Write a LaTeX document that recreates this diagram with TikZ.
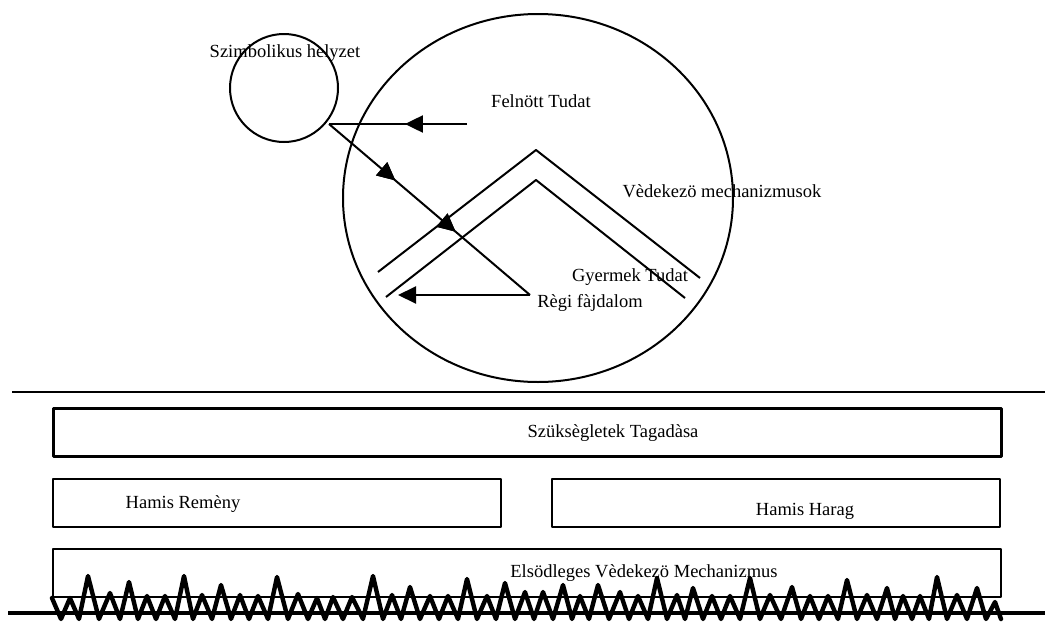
\documentclass[tikz,border=0pt]{standalone}
\usepackage{fontspec}
\setmainfont{Liberation Serif}
\usetikzlibrary{arrows.meta,decorations.markings,shapes.geometric}
\begin{document}
\begin{tikzpicture}[x=1pt,y=-1pt, line join=round,
  lbl/.style={font=\fontsize{18.5}{20}\selectfont, inner sep=0pt, anchor=center},
  ln/.style={line width=2pt},
  arrowtip/.style={-{Triangle[length=18pt,width=17pt]}},
  midtip/.style={postaction={decorate}, decoration={markings, mark=at position #1 with {\arrow{Triangle[length=18pt,width=17pt]}}}},
  rbox/.style={draw, line width=2.3pt, inner sep=0pt, minimum height=48pt, anchor=north west}]
\useasboundingbox (0,0) rectangle (1045,624);

% circles
\node[draw, ellipse, line width=2pt, minimum width=390pt, minimum height=368pt, inner sep=0pt] (big) at (538,198) {};
\node[draw, circle, line width=2pt, minimum size=108pt, inner sep=0pt] (sym) at (284,88) {};
\node[lbl] (symlbl) at (285,53) {Szimbolikus helyzet};

% chevrons
\coordinate (oa) at (378,272); \coordinate (ob) at (536,150); \coordinate (oc) at (700,278);
\coordinate (ia) at (386,297); \coordinate (ib) at (536,180); \coordinate (ic) at (685,298);
\draw[ln] (oa) -- (ob) -- (oc);
\draw[ln] (ia) -- (ib) -- (ic);

% arrows
\coordinate (s) at (329,124);
\coordinate (h) at (467,124);
\coordinate (p) at (530,295);
\coordinate (q) at (398,295);
\draw[ln, midtip=0.45] (h) -- (s);
\draw[ln, midtip=0.33, midtip=0.63] (s) -- (p);
\draw[ln, arrowtip] (p) -- (q);

% labels in circle
\node[lbl] (adult) at (541,101) {Felnött Tudat};
\node[lbl] (def) at (722,191) {Vèdekezö mechanizmusok};
\node[lbl] (child) at (630,277) {Gyermek Tudat};
\node[lbl] (pain) at (590,303) {Règi fàjdalom};

% separator
\coordinate (l1) at (12,392); \coordinate (l2) at (1045,392);
\draw[line width=1.6pt] (l1) -- (l2);

% boxes
\node[rbox, line width=2.8pt, minimum width=948pt] (b1) at (52,407) {};
\node[lbl] (t1) at (613,433) {Szüksègletek Tagadàsa};
\node[rbox, minimum width=448pt] (b2) at (52,478) {};
\node[lbl] (t2) at (183,504) {Hamis Remèny};
\node[rbox, minimum width=448pt] (b3) at (551,478) {};
\node[lbl] (t3) at (805,511) {Hamis Harag};
\node[rbox, minimum width=948pt] (b4) at (52,548) {};
\node[lbl] (t4) at (644,573) {Elsödleges Vèdekezö Mechanizmus};

% bottom line
\coordinate (g1) at (8,613); \coordinate (g2) at (1045,613);
\draw[line width=3.4pt] (g1) -- (g2);

% zigzag
\draw[line width=4.4pt, line join=round, line cap=round] plot coordinates {
(52,598) (61,619) (70,598) (79,619) (88,576) (99,619) (110,593) (120,619) (129,582) (138,619) (147,596) (156,619) (165,596) (175,619) (184,576) (193,619) (202,595) (212,619) (221,585) (231,619) (240,595) (249,619) (258,596) (268,619) (277,577) (288,619) (298,594) (308,619) (317,598) (325,619) (333,597) (343,619) (352,597) (363,619) (373,576) (383,619) (392,595) (401,619) (410,587) (420,619) (430,596) (439,619) (448,596) (458,619) (467,579) (477,619) (487,596) (496,619) (505,583) (515,619) (525,592) (534,619) (543,592) (553,619) (563,585) (572,619) (580,596) (589,619) (598,585) (609,619) (620,592) (629,619) (638,596) (648,619) (657,578) (667,619) (677,595) (685,619) (693,588) (703,619) (712,596) (721,619) (730,596) (740,619) (750,578) (760,619) (770,595) (781,619) (792,587) (801,619) (810,596) (819,619) (828,596) (838,619) (847,580) (857,619) (867,595) (877,619) (887,588) (895,619) (903,596) (912,619) (920,596) (929,619) (937,577) (947,619) (957,595) (967,619) (977,588) (986,619) (995,602) (1001,619)};
\end{tikzpicture}
\end{document}
